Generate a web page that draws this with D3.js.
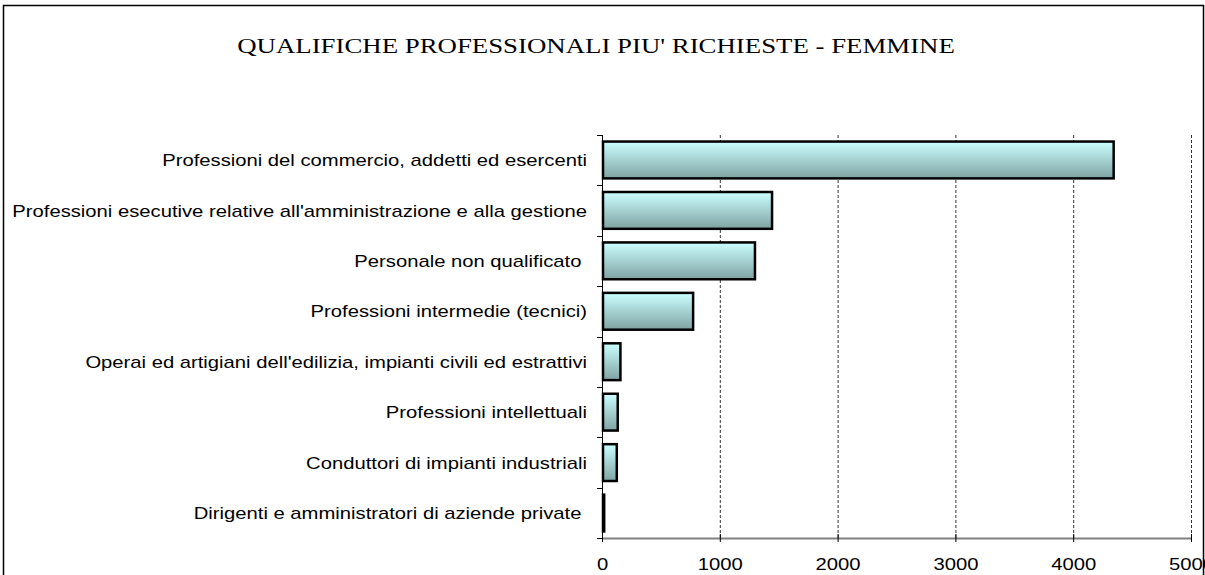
<!DOCTYPE html>
<html>
<head>
<meta charset="utf-8">
<script src="https://cdn.jsdelivr.net/npm/d3@7"></script>
<style>
  body { margin: 0; background: #fff; }
  text { white-space: pre; }
</style>
</head>
<body>
<div id="chart"></div>
<script>
// Data
const categories = [
  "Professioni del commercio, addetti ed esercenti",
  "Professioni esecutive relative all'amministrazione e alla gestione",
  "Personale non qualificato ",
  "Professioni intermedie (tecnici)",
  "Operai ed artigiani dell'edilizia, impianti civili ed estrattivi",
  "Professioni intellettuali",
  "Conduttori di impianti industriali",
  "Dirigenti e amministratori di aziende private "
];
const values = [4335, 1435, 1290, 765, 148, 125, 117, 10];
const xTicks = [0, 1000, 2000, 3000, 4000, 5000];
const title = "QUALIFICHE PROFESSIONALI PIU' RICHIESTE - FEMMINE";

const data = categories.map((c, i) => ({ name: c, value: values[i] }));

const width = 1205;
const height = 575;
const margin = { top: 135, right: 14, bottom: 37, left: 602 };
const sx = 1.19; // reference text is drawn wider than the font's natural width

const svg = d3.select("#chart")
  .append("svg")
  .attr("width", width)
  .attr("height", height);

// Outer frame
svg.append("rect")
  .attr("x", 3.5)
  .attr("y", 5.5)
  .attr("width", width - 5)
  .attr("height", height + 10)
  .attr("fill", "none")
  .attr("stroke", "#000")
  .attr("stroke-width", 1.5);

// Bar gradient
const defs = svg.append("defs");
const grad = defs.append("linearGradient")
  .attr("id", "barGrad")
  .attr("x1", 0).attr("y1", 0)
  .attr("x2", 0).attr("y2", 1);
grad.append("stop").attr("offset", "0%").attr("stop-color", "#ccffff");
grad.append("stop").attr("offset", "100%").attr("stop-color", "#7fa3a3");

// Scales
const x = d3.scaleLinear()
  .domain([0, 5000])
  .range([margin.left, width - margin.right]);

const y = d3.scaleBand()
  .domain(categories)
  .range([margin.top, height - margin.bottom])
  .paddingInner(0.27)
  .paddingOuter(0.13);

// Gridlines
svg.append("g")
  .selectAll("line")
  .data(xTicks.filter(d => d > 0))
  .join("line")
  .attr("x1", d => x(d) + 0.5)
  .attr("x2", d => x(d) + 0.5)
  .attr("y1", margin.top)
  .attr("y2", height - margin.bottom)
  .attr("stroke", "#333")
  .attr("stroke-width", 1)
  .attr("stroke-dasharray", "3,2");

// Bars
svg.append("g")
  .selectAll("rect")
  .data(data)
  .join("rect")
  .attr("x", x(0) + 1)
  .attr("y", d => y(d.name))
  .attr("width", d => Math.max(1, x(d.value) - x(0)))
  .attr("height", y.bandwidth())
  .attr("fill", "url(#barGrad)")
  .attr("stroke", "#000")
  .attr("stroke-width", 2.5);

// Y axis (category labels), ticks on band boundaries
const bandEdges = categories.map(c => y(c) - y.step() * y.paddingInner() / 2)
  .concat([height - margin.bottom]);
const yAxisG = svg.append("g");
yAxisG.append("line")
  .attr("x1", x(0) + 0.5).attr("x2", x(0) + 0.5)
  .attr("y1", margin.top).attr("y2", height - margin.bottom)
  .attr("stroke", "#000");
yAxisG.selectAll(".ytick")
  .data(bandEdges)
  .join("line")
  .attr("class", "ytick")
  .attr("x1", x(0) - 5).attr("x2", x(0))
  .attr("y1", d => Math.round(d) + 0.5).attr("y2", d => Math.round(d) + 0.5)
  .attr("stroke", "#000");
yAxisG.selectAll("text")
  .data(categories)
  .join("text")
  .attr("transform", d => `translate(${x(0) - 15},${y(d) + y.bandwidth() / 2}) scale(${sx},1)`)
  .attr("dy", "0.36em")
  .attr("text-anchor", "end")
  .attr("font-family", "Liberation Sans, Arial, sans-serif")
  .attr("font-size", "17px")
  .attr("fill", "#000")
  .text(d => d);

// X axis
const xAxis = d3.axisBottom(x).tickValues(xTicks).tickFormat(d3.format("d")).tickSize(5).tickSizeOuter(0);
const xAxisG = svg.append("g")
  .attr("transform", `translate(0,${height - margin.bottom})`)
  .call(xAxis);
xAxisG.select(".domain").attr("stroke", "#808080").attr("stroke-width", 2);
xAxisG.selectAll(".tick line").attr("stroke", "#000").attr("y1", -4).attr("y2", 4);
xAxisG.selectAll("text")
  .attr("y", null)
  .attr("dy", null)
  .attr("transform", `translate(0,32) scale(${sx},1)`)
  .attr("font-family", "Liberation Sans, Arial, sans-serif")
  .attr("font-size", "17px")
  .attr("fill", "#000");

// Title
svg.append("text")
  .attr("transform", `translate(596,53) scale(1.22,1)`)
  .attr("text-anchor", "middle")
  .attr("font-family", "Liberation Serif, Times New Roman, serif")
  .attr("font-size", "22px")
  .attr("fill", "#000")
  .text(title);
</script>
</body>
</html>
